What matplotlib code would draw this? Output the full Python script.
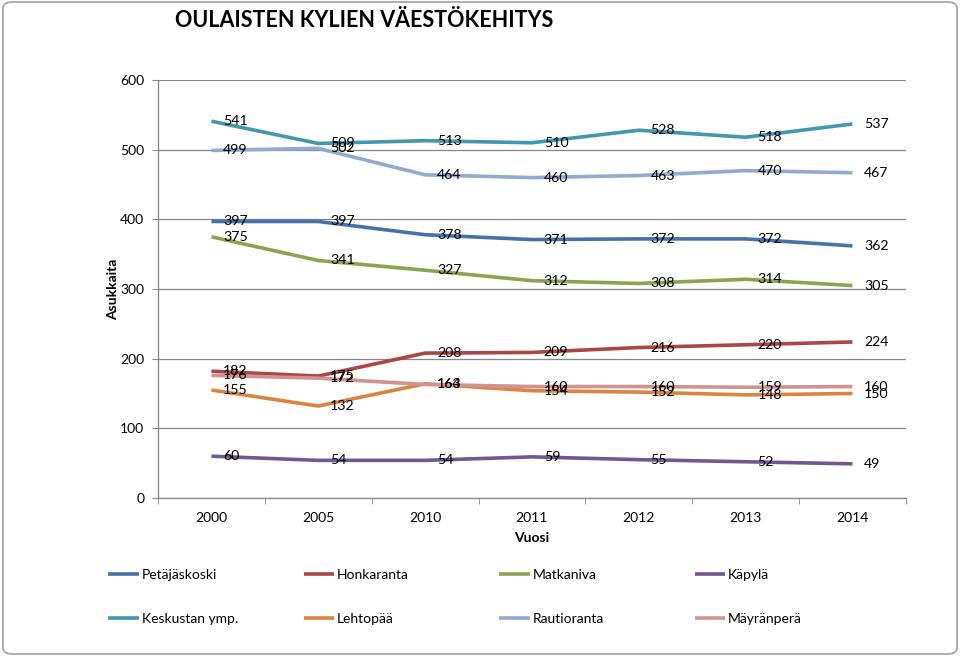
import matplotlib
matplotlib.use('Agg')
from matplotlib import pyplot as plt
from matplotlib.patches import FancyBboxPatch

years = ['2000', '2005', '2010', '2011', '2012', '2013', '2014']

petajaskoski = [397, 397, 378, 371, 372, 372, 362]
honkaranta = [182, 175, 208, 209, 216, 220, 224]
matkaniva = [375, 341, 327, 312, 308, 314, 305]
kapyla = [60, 54, 54, 59, 55, 52, 49]
keskustan = [541, 509, 513, 510, 528, 518, 537]
lehtopaa = [155, 132, 164, 154, 152, 148, 150]
rautioranta = [499, 502, 464, 460, 463, 470, 467]
mayranpera = [176, 172, 163, 160, 160, 159, 160]

series = [
    ('Petäjäskoski', petajaskoski, '#4572A7'),
    ('Honkaranta', honkaranta, '#AA4643'),
    ('Matkaniva', matkaniva, '#89A54E'),
    ('Käpylä', kapyla, '#71588F'),
    ('Keskustan ymp.', keskustan, '#4198AF'),
    ('Lehtopää', lehtopaa, '#DB843D'),
    ('Rautioranta', rautioranta, '#93A9CF'),
    ('Mäyränperä', mayranpera, '#D19392'),
]

plt.rcParams['font.family'] = ['Lato', 'DejaVu Sans']

fig = plt.figure(figsize=(9.6, 6.56), dpi=100)
ax = fig.add_axes([0.1646, 0.2409, 0.779, 0.637])

x = list(range(len(years)))
handles = {}
for name, vals, color in series:
    line, = ax.plot(x, vals, color=color, linewidth=2.6, solid_capstyle='butt', label=name)
    handles[name] = line
for name, vals, color in series:
    for xi, v in zip(x, vals):
        ax.annotate(str(v), (xi, v), xytext=(8.5, 0), textcoords='offset points',
                    va='center', ha='left', fontsize=10.2, color='black')

ax.set_xlim(-0.5, len(years) - 0.5)
ax.set_ylim(0, 600)
ax.set_yticks(range(0, 601, 100))
ax.set_xticks(x)
ax.set_xticklabels(years)
ax.set_xticks([i + 0.5 for i in range(-1, len(years))], minor=True)
ax.tick_params(axis='x', which='major', length=0, pad=10, labelsize=10)
ax.tick_params(axis='x', which='minor', length=4, color='#868686', direction='out')
ax.tick_params(axis='y', length=4, color='#868686', labelsize=10, pad=6)
ax.yaxis.grid(True, color='#868686', linewidth=0.9)
ax.set_axisbelow(True)
for s in ['top', 'right']:
    ax.spines[s].set_visible(False)
for s in ['left', 'bottom']:
    ax.spines[s].set_color('#868686')
    ax.spines[s].set_linewidth(0.9)

ax.set_ylabel('Asukkaita', fontsize=10, fontweight='bold', labelpad=1)
ax.set_xlabel('Vuosi', fontsize=10, fontweight='bold', labelpad=6)

fig.text(0.182, 0.968, 'OULAISTEN KYLIEN VÄESTÖKEHITYS', fontsize=15.5, fontweight='bold',
         va='center', ha='left')

# legend: four evenly spaced columns, two rows
columns = [['Petäjäskoski', 'Keskustan ymp.'], ['Honkaranta', 'Lehtopää'],
           ['Matkaniva', 'Rautioranta'], ['Käpylä', 'Mäyränperä']]
for i, col in enumerate(columns):
    x0 = (104 + i * 195.5) / 960
    fig.legend([handles[n] for n in col], col, loc='upper left',
               bbox_to_anchor=(x0, 0.139), frameon=False, fontsize=10,
               handlelength=2.2, handletextpad=0.2, labelspacing=2.3,
               borderaxespad=0, borderpad=0.3)

fig.patches.append(FancyBboxPatch((0.003, 0.003), 0.994, 0.994, boxstyle='round,pad=0,rounding_size=0.01',
                                  transform=fig.transFigure, fill=False, edgecolor='#A0A0A0',
                                  linewidth=1.2))

plt.savefig('out.png', dpi=100)
